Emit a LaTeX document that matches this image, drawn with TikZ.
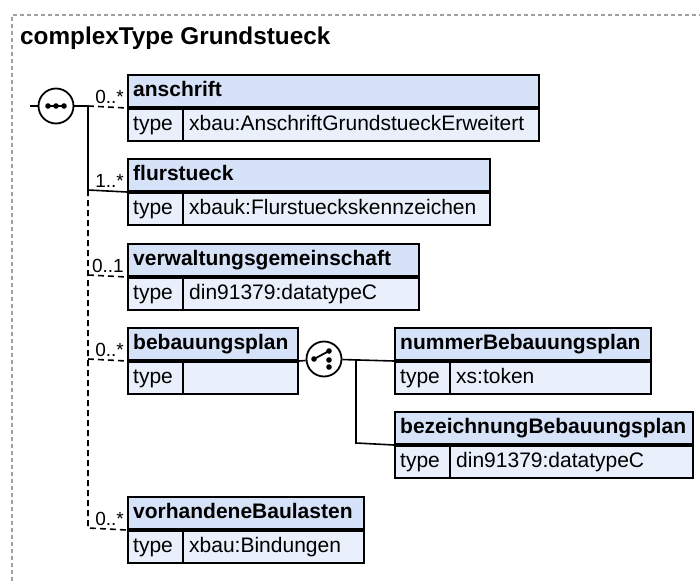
\documentclass[tikz,border=0pt]{standalone}
\usepackage{fontspec}
\setmainfont{Liberation Sans}
\definecolor{hdrc}{RGB}{214,226,247}
\definecolor{rowc}{RGB}{233,240,251}
\definecolor{framec}{RGB}{160,160,160}
\newcommand\ebox[6]{%
  \node[hdr, minimum width=#4pt] (#1) at (#2,#3) {};
  \node[htxt] (#1-h) at ([xshift=6pt]#1.west) {#5};
  \node[row, minimum width=#4pt] (#1-r) at (#1.south west) {};
  \node[ttxt] (#1-k) at ([xshift=6pt]#1-r.west) {type};
  \node[ttxt] (#1-v) at ([xshift=62pt]#1-r.west) {#6};
  \draw[line width=2pt] ([xshift=56pt]#1-r.north west) -- ([xshift=56pt]#1-r.south west);
}
\begin{document}
\begin{tikzpicture}[x=1pt,y=-1pt,
  hdr/.style={draw, line width=2pt, fill=hdrc, minimum height=32pt, inner sep=0pt, anchor=north west},
  row/.style={draw, line width=2pt, fill=rowc, minimum height=31.5pt, inner sep=0pt, anchor=north west},
  htxt/.style={font=\fontsize{21}{25}\selectfont\bfseries, anchor=west, inner sep=0pt, text height=15pt, text depth=4pt},
  ttxt/.style={font=\fontsize{21}{25}\selectfont, anchor=west, inner sep=0pt, text height=15pt, text depth=4pt},
  mult/.style={font=\fontsize{19}{22}\selectfont, anchor=base east, inner sep=0pt},
  conn/.style={line width=1.6pt},
  opt/.style={conn, dash pattern=on 6pt off 4pt},
  sym/.style={circle, draw, line width=1.8pt, fill=white, minimum size=35pt, inner sep=0pt},
  dot/.style={fill=black}
]
\useasboundingbox (0,0) rectangle (700,581);
\draw[framec, line width=1.2pt, dash pattern=on 4pt off 3pt] (12,581) -- (12,15) -- (700,15);
\node[anchor=base west, font=\fontsize{24.3}{28}\selectfont\bfseries, inner sep=0pt] (title) at (20,44) {complexType Grundstueck};

\ebox{anschrift}{127}{74}{411}{anschrift}{xbau:AnschriftGrundstueckErweitert}
\ebox{flur}{127}{158}{362}{flurstueck}{xbauk:Flurstueckskennzeichen}
\ebox{verw}{127}{243}{291}{verwaltungsgemeinschaft}{din91379:datatypeC}
\ebox{bebau}{127}{327}{170}{bebauungsplan}{}
\ebox{vorh}{127}{496}{236}{vorhandeneBaulasten}{xbau:Bindungen}
\ebox{nummer}{394}{327}{256}{nummerBebauungsplan}{xs:token}
\ebox{bez}{394}{411}{298}{bezeichnungBebauungsplan}{din91379:datatypeC}

% sequence symbol
\node[sym] (seq) at (56,106) {};
\draw[line width=1.8pt] ([xshift=-9pt]seq.center) -- ([xshift=9pt]seq.center);
\foreach \d in {-8,0,8} \fill[dot] ([xshift=\d pt]seq.center) circle (2.8pt);

% choice symbol
\node[sym] (ch) at (324,359) {};
\draw[line width=1.8pt] ([xshift=-10pt]ch.center) -- ([xshift=5pt,yshift=8pt]ch.center);
\fill[dot] ([xshift=-10pt]ch.center) circle (2.8pt);
\fill[dot] ([xshift=5pt,yshift=8pt]ch.center) circle (2.8pt);
\fill[dot] ([xshift=5pt,yshift=-1pt]ch.center) circle (2.8pt);
\fill[dot] ([xshift=5pt,yshift=-8pt]ch.center) circle (2.8pt);

% junctions
\coordinate (in) at (30,106);
\coordinate (j1) at (88,106);
\coordinate (j2) at (88,190);
\coordinate (j3) at (88,275);
\coordinate (j4) at (88,359);
\coordinate (j5) at (88,528);
\coordinate (jc) at (356,359);
\coordinate (jc2) at (356,443);

\draw[conn] (in) -- (seq);
\draw[conn] (seq) -- (j1);
\draw[opt] (j1) -- (anschrift.south west);
\draw[conn] (j1) -- (j2) -- (flur.south west);
\draw[opt] (j2) -- (j5) -- (vorh.south west);
\draw[opt] (j3) -- (verw.south west);
\draw[opt] (j4) -- (bebau.south west);
\draw[conn] (bebau.south east) -- (ch);
\draw[conn] (ch) -- (nummer.south west);
\draw[conn] (jc) -- (jc2) -- (bez.south west);

% multiplicities
\node[mult] (m1) at (124,103) {0..*};
\node[mult] (m2) at (124,187) {1..*};
\node[mult] (m3) at (124,272) {0..1};
\node[mult] (m4) at (124,356) {0..*};
\node[mult] (m5) at (124,525) {0..*};
\end{tikzpicture}
\end{document}
